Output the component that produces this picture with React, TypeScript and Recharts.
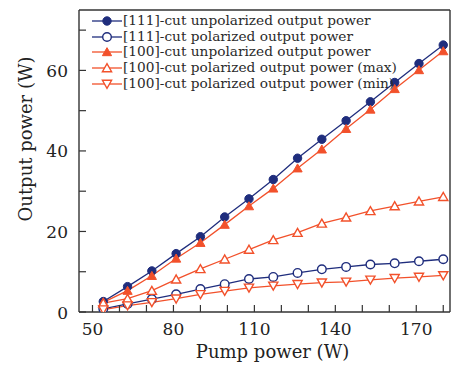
import React from 'react';
import { LineChart, Line, XAxis, YAxis, ReferenceLine, Label } from 'recharts';

const pump = [54, 63, 72, 81, 90, 99, 108, 117, 126, 135, 144, 153, 162, 171, 180];
const unpol111 = [2.6, 6.3, 10.2, 14.5, 18.7, 23.6, 28.1, 32.9, 38.2, 42.9, 47.5, 52.2, 57.0, 61.7, 66.3];
const pol111 = [0.8, 2.0, 3.2, 4.4, 5.7, 6.9, 8.2, 8.7, 9.7, 10.6, 11.2, 11.8, 12.1, 12.6, 13.1];
const unpol100 = [2.4, 5.3, 9.0, 13.3, 17.2, 21.7, 26.3, 30.7, 35.7, 40.4, 45.5, 50.3, 55.4, 60.1, 64.8];
const polMax100 = [2.2, 3.3, 5.3, 8.1, 10.7, 13.1, 15.5, 17.9, 19.7, 22.0, 23.5, 25.1, 26.3, 27.5, 28.6];
const polMin100 = [0.6, 1.6, 2.4, 3.3, 4.4, 5.2, 6.0, 6.5, 6.9, 7.3, 7.5, 8.0, 8.4, 8.7, 9.1];

const xTicks = [50, 60, 70, 80, 90, 100, 110, 120, 130, 140, 150, 160, 170, 180];
const yTicks = [0, 10, 20, 30, 40, 50, 60, 70];

const BLUE = '#1f2d7d';
const RED = '#f2512b';
const AXIS = '#333';
const FONT = '"DejaVu Serif", serif';

const data = pump.map((p, i) => ({
  pump: p,
  unpol111: unpol111[i],
  pol111: pol111[i],
  unpol100: unpol100[i],
  polMax100: polMax100[i],
  polMin100: polMin100[i],
}));

type Kind = 'disc' | 'ring' | 'triFill' | 'triUp' | 'triDown';

const series: { key: string; name: string; color: string; kind: Kind }[] = [
  { key: 'unpol111', name: '[111]-cut unpolarized output power', color: BLUE, kind: 'disc' },
  { key: 'pol111', name: '[111]-cut polarized output power', color: BLUE, kind: 'ring' },
  { key: 'unpol100', name: '[100]-cut unpolarized output power', color: RED, kind: 'triFill' },
  { key: 'polMax100', name: '[100]-cut polarized output power (max)', color: RED, kind: 'triUp' },
  { key: 'polMin100', name: '[100]-cut polarized output power (min)', color: RED, kind: 'triDown' },
];

const Marker = ({ kind, cx, cy, color }: { kind: Kind; cx: number; cy: number; color: string }) => {
  if (kind === 'disc') return <circle cx={cx} cy={cy} r={4.2} fill={color} stroke={color} />;
  if (kind === 'ring') return <circle cx={cx} cy={cy} r={4.3} fill="#fff" stroke={color} strokeWidth={1.4} />;
  const s = 4.6;
  if (kind === 'triDown') {
    return (
      <polygon
        points={`${cx - s},${cy - s * 0.8} ${cx + s},${cy - s * 0.8} ${cx},${cy + s * 0.95}`}
        fill="#fff"
        stroke={color}
        strokeWidth={1.4}
      />
    );
  }
  const filled = kind === 'triFill';
  return (
    <polygon
      points={`${cx - s},${cy + s * 0.8} ${cx + s},${cy + s * 0.8} ${cx},${cy - s * 0.95}`}
      fill={filled ? color : '#fff'}
      stroke={color}
      strokeWidth={filled ? 1 : 1.4}
    />
  );
};

const XTick = (props: any) => {
  const { x, y, payload } = props;
  const v = payload.value;
  return (
    <g>
      <line x1={x} x2={x} y1={y} y2={y - 7} stroke={AXIS} strokeWidth={1.2} />
      {(v - 50) % 30 === 0 && (
        <text x={x} y={y + 23} textAnchor="middle" fontFamily={FONT} fontSize={17} fill="#222">
          {v}
        </text>
      )}
    </g>
  );
};

const YTick = (props: any) => {
  const { x, y, payload } = props;
  const v = payload.value;
  return (
    <g>
      <line x1={x} x2={x + 7} y1={y} y2={y} stroke={AXIS} strokeWidth={1.2} />
      {v % 20 === 0 && (
        <text x={x - 11} y={y + 6.5} textAnchor="end" fontFamily={FONT} fontSize={17} fill="#222">
          {v}
        </text>
      )}
    </g>
  );
};

// legend sits over the plot, drawn separately so it does not shrink the plot area
const LegendBox = () => (
  <div
    style={{
      position: 'absolute',
      left: 91,
      top: 13,
      fontFamily: FONT,
      fontSize: 13.7,
      color: '#2a2a2a',
      lineHeight: '15.7px',
      pointerEvents: 'none',
    }}
  >
    {series.map((s) => (
      <div key={s.key} style={{ display: 'flex', alignItems: 'center', height: 15.7 }}>
        <svg width={32} height={14} style={{ display: 'block' }}>
          <line x1={1} x2={31} y1={7} y2={7} stroke={s.color} strokeWidth={1.3} />
          <Marker kind={s.kind} cx={16} cy={7} color={s.color} />
        </svg>
        <span style={{ marginLeft: 0, whiteSpace: 'nowrap' }}>{s.name}</span>
      </div>
    ))}
  </div>
);

export default function App() {
  return (
    <div style={{ position: 'absolute', left: 0, top: 0, width: 451, height: 366, background: '#fff' }}>
      <LineChart width={451} height={366} data={data} margin={{ top: 10, right: 1, left: 0, bottom: 0 }}>
        <XAxis
          dataKey="pump"
          type="number"
          domain={[45, 182.5]}
          ticks={xTicks}
          interval={0}
          allowDataOverflow
          height={54}
          tickSize={0}
          tickMargin={0}
          tickLine={false}
          tick={<XTick />}
          stroke={AXIS}
          strokeWidth={1.4}
        >
          <Label
            content={(p: any) => {
              const vb = p.viewBox;
              return (
                <text x={vb.x + vb.width / 2 + 8} y={358} textAnchor="middle" fontFamily={FONT} fontSize={18} fill="#222">
                  Pump power (W)
                </text>
              );
            }}
          />
        </XAxis>
        <YAxis
          type="number"
          domain={[0, 75]}
          ticks={yTicks}
          interval={0}
          allowDataOverflow
          width={79}
          tickSize={0}
          tickMargin={0}
          tickLine={false}
          tick={<YTick />}
          stroke={AXIS}
          strokeWidth={1.4}
        >
          <Label
            content={(p: any) => {
              const vb = p.viewBox;
              const cy = vb.y + vb.height / 2 - 22;
              return (
                <text
                  x={32}
                  y={cy}
                  transform={`rotate(-90, 32, ${cy})`}
                  textAnchor="middle"
                  fontFamily={FONT}
                  fontSize={18}
                  fill="#222"
                >
                  Output power (W)
                </text>
              );
            }}
          />
        </YAxis>
        <ReferenceLine y={75} stroke={AXIS} strokeWidth={1.4} />
        <ReferenceLine x={182.5} stroke={AXIS} strokeWidth={1.4} />
        {series.map((s) => (
          <Line
            key={s.key}
            dataKey={s.key}
            name={s.name}
            stroke={s.color}
            strokeWidth={1.3}
            isAnimationActive={false}
            dot={(p: any) => <Marker key={`${s.key}-${p.index}`} kind={s.kind} cx={p.cx} cy={p.cy} color={s.color} />}
            activeDot={false}
          />
        ))}
      </LineChart>
      <LegendBox />
    </div>
  );
}
